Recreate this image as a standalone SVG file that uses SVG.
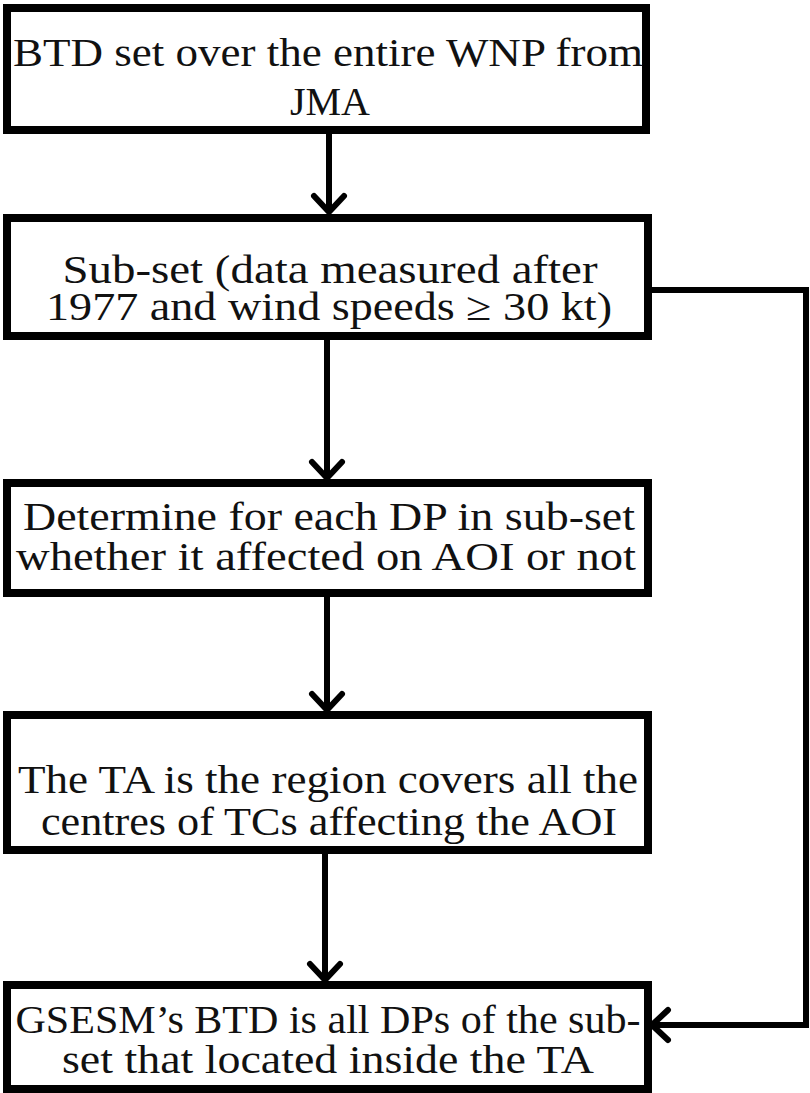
<svg xmlns="http://www.w3.org/2000/svg" width="810" height="1093" viewBox="0 0 810 1093">
<style>
.box{fill:#fff;stroke:#000;stroke-width:8}
.t{font-family:"Liberation Serif","Times New Roman",serif;font-size:40px;fill:#111;text-anchor:middle}
.c{fill:none;stroke:#000;stroke-width:6}
.h{fill:none;stroke:#000;stroke-width:6;stroke-linecap:round;stroke-linejoin:round}
</style>
<rect width="810" height="1093" fill="#fff"/>
<g id="connectors">
<line class="c" x1="329" y1="130" x2="329" y2="212"/>
<polyline class="h" points="314,196 329,212 344,196"/>
<line class="c" x1="327" y1="336" x2="327" y2="478"/>
<polyline class="h" points="312,462 327,478 342,462"/>
<line class="c" x1="327" y1="593" x2="327" y2="710"/>
<polyline class="h" points="312,694 327,710 342,694"/>
<line class="c" x1="325" y1="850" x2="325" y2="980"/>
<polyline class="h" points="310,964 325,980 340,964"/>
<polyline class="c" points="648,290 806,290 806,1025 652,1025"/>
<polyline class="h" points="668,1010 652,1025 668,1040"/>
</g>
<g id="n1"><rect class="box" x="7" y="8" width="639" height="122"/>
<text class="t" x="328" y="66" textLength="630" lengthAdjust="spacingAndGlyphs">BTD set over the entire WNP from</text>
<text class="t" x="330" y="115">JMA</text></g>
<g id="n2"><rect class="box" x="7" y="218" width="641" height="118"/>
<text class="t" x="330" y="283" textLength="535" lengthAdjust="spacingAndGlyphs">Sub-set (data measured after</text>
<text class="t" x="329" y="320" textLength="566" lengthAdjust="spacingAndGlyphs">1977 and wind speeds ≥ 30 kt)</text></g>
<g id="n3"><rect class="box" x="7" y="483" width="641" height="110"/>
<text class="t" x="329" y="530" textLength="612" lengthAdjust="spacingAndGlyphs">Determine for each DP in sub-set</text>
<text class="t" x="326" y="570" textLength="620" lengthAdjust="spacingAndGlyphs">whether it affected on AOI or not</text></g>
<g id="n4"><rect class="box" x="7" y="715" width="641" height="135"/>
<text class="t" x="328" y="793" textLength="620" lengthAdjust="spacingAndGlyphs">The TA is the region covers all the</text>
<text class="t" x="329" y="835" textLength="576" lengthAdjust="spacingAndGlyphs">centres of TCs affecting the AOI</text></g>
<g id="n5"><rect class="box" x="7" y="985" width="641" height="104"/>
<text class="t" x="328" y="1033" textLength="625" lengthAdjust="spacingAndGlyphs">GSESM’s BTD is all DPs of the sub-</text>
<text class="t" x="328" y="1073" textLength="532" lengthAdjust="spacingAndGlyphs">set that located inside the TA</text></g>
</svg>
